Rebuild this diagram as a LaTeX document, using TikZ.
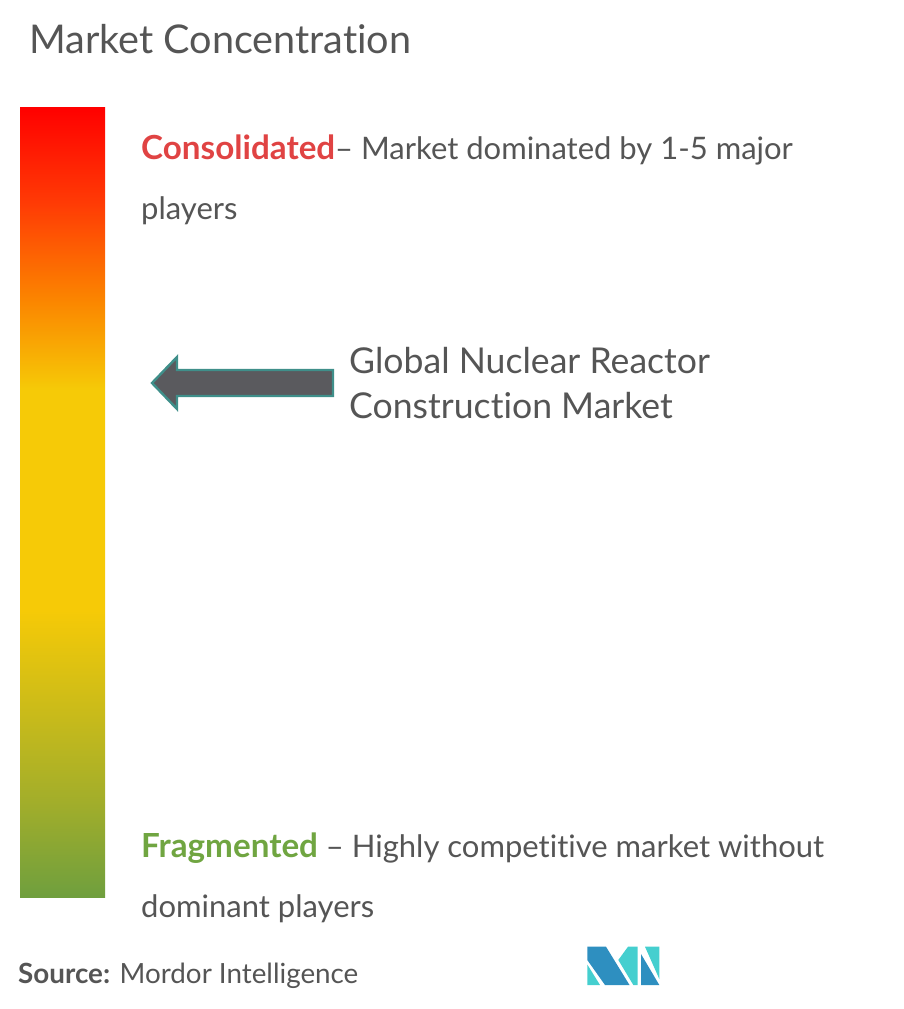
\documentclass[tikz,border=0pt]{standalone}
\usepackage{fontspec}
\setmainfont{Lato}[Ligatures=NoCommon]
\usepackage{xcolor}
\definecolor{textgray}{HTML}{555555}
\definecolor{consred}{HTML}{E04343}
\definecolor{fraggreen}{HTML}{70A541}
\definecolor{arrowfill}{HTML}{5A5A5E}
\definecolor{arrowedge}{HTML}{3F8F8A}
\definecolor{logoblue}{HTML}{2E8FC0}
\definecolor{logoteal}{HTML}{45CFCF}
\definecolor{barred}{HTML}{FF0000}
\definecolor{barredor}{HTML}{FF3A05}
\definecolor{barorange}{HTML}{FB8500}
\definecolor{baryellow}{HTML}{F6CA07}
\definecolor{barolive}{HTML}{A3AE2A}
\definecolor{bargreen}{HTML}{6F9F3E}
\pgfdeclareverticalshading{concbar}{100bp}{
  color(0bp)=(bargreen); color(25bp)=(bargreen); color(31.15bp)=(barolive); color(43.15bp)=(baryellow);
  color(57.1bp)=(baryellow); color(62.8bp)=(barorange); color(69bp)=(barredor);
  color(75bp)=(barred); color(100bp)=(barred)}
\newcommand{\boldlabel}[2]{\textcolor{#1}{\fontsize{33.2}{60}\selectfont\textbf{#2}}}
\tikzset{
  heading/.style={font=\fontsize{39.6}{47}\selectfont, text=textgray, inner sep=0pt, anchor=west},
  body/.style={font=\fontsize{31}{60}\selectfont, text=textgray, inner sep=0pt, anchor=west, align=left},
  market/.style={font=\fontsize{35.6}{45}\selectfont, text=textgray, inner sep=0pt, anchor=west, align=left},
  source/.style={font=\fontsize{27.8}{32}\selectfont, text=textgray, inner sep=0pt, anchor=west},
  marketarrow/.style={draw=arrowedge, fill=arrowfill, line width=2.4pt}
}
\begin{document}
\begin{tikzpicture}[x=1pt,y=-1pt]
\useasboundingbox (0,0) rectangle (903,1009);

% title
\node[heading] (title) at (29,39) {Market Concentration};

% colour bar
\shade[shading=concbar] (20,107) rectangle (105,897);

% labels
\node[body] (cons) at (141,180) {\boldlabel{consred}{Consolidated}-- Market dominated by 1-5 major\\players};
\node[body] (frag) at (141,878) {\boldlabel{fraggreen}{Fragmented} -- Highly competitive market without\\dominant players};

% market position
\node[market] (market) at (349,383) {Global Nuclear Reactor\\Construction Market};
\draw[marketarrow] (333,370) -- (177,370) -- (177,357) -- (152,383) -- (177,409) -- (177,396) -- (333,396) -- cycle;

% source
\node[source] (source) at (18,976) {\textbf{Source:} Mordor Intelligence};

% logo
\fill[logoblue] (587.3,946.7) -- (606,946.7) -- (629.5,985) -- (605,985) -- (587.3,960) -- cycle;
\fill[logoteal] (587.3,964.5) -- (600,985) -- (587.3,985) -- cycle;
\fill[logoteal] (618.3,960) -- (628,946.7) -- (637.7,946.7) -- (637.7,985) -- (633.3,985) -- cycle;
\fill[logoblue] (641,954) -- (659.3,985) -- (641,985) -- cycle;
\fill[logoteal] (645,946.7) -- (659.3,946.7) -- (659.3,979) -- cycle;
\end{tikzpicture}
\end{document}
